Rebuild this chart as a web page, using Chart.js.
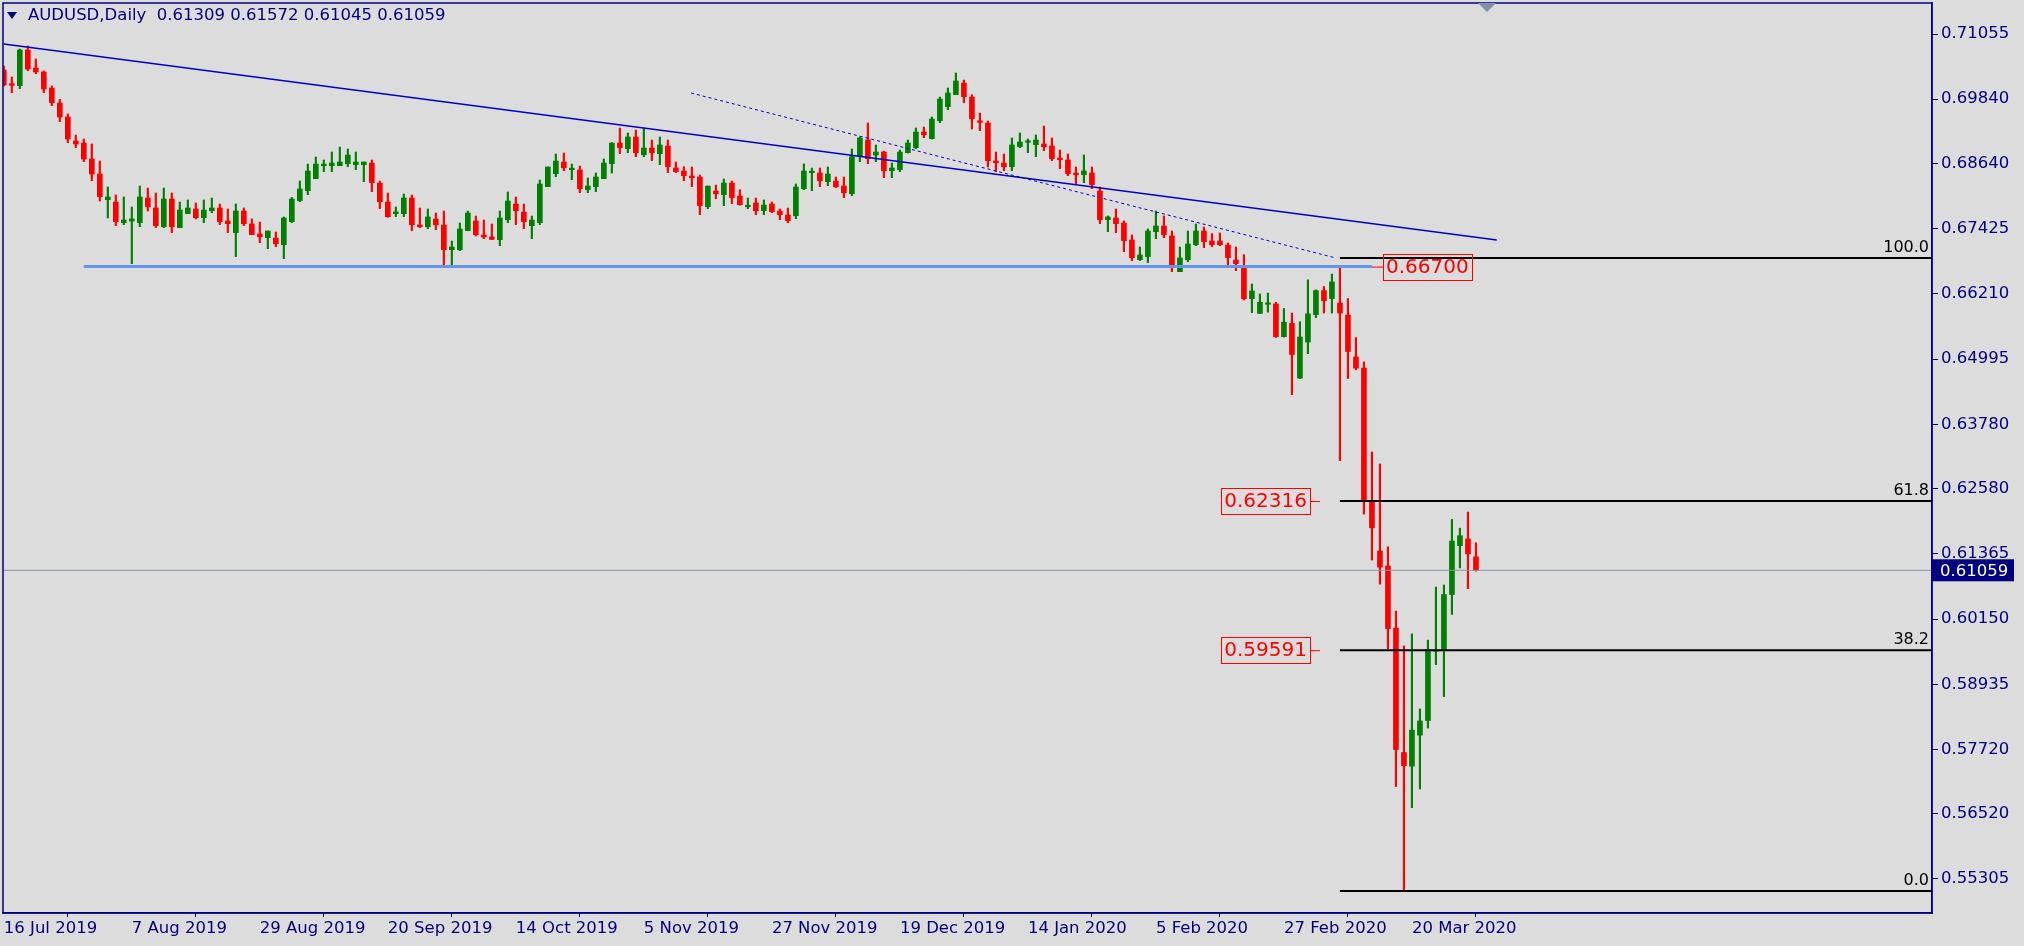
<!DOCTYPE html>
<html>
<head>
<meta charset="utf-8">
<script src="https://cdn.jsdelivr.net/npm/chart.js@4/dist/chart.umd.min.js"></script>
<style>
  html, body { margin: 0; background: #dcdcdc; }
</style>
</head>
<body>
<canvas id="chart" width="2024" height="946"></canvas>
<script>
// AUDUSD daily candles (oldest first)
const open = [
  0.70384,0.70129,0.70092,0.70757,0.70421,0.70347,0.70048,0.69769,0.69508,0.69060,
  0.69023,0.68725,0.68445,0.67967,0.67923,0.67538,0.67569,0.67538,0.67998,0.67812,
  0.67464,0.67979,0.67445,0.67706,0.67793,0.67632,0.67762,0.67812,0.67569,0.67352,
  0.67756,0.67513,0.67327,0.67258,0.67252,0.67128,0.67557,0.67948,0.68134,0.68358,
  0.68600,0.68600,0.68600,0.68638,0.68619,0.68619,0.68650,0.68277,0.67923,0.67706,
  0.67706,0.67998,0.67495,0.67463,0.67606,0.67495,0.67035,0.67035,0.67389,0.67569,
  0.67308,0.67271,0.67221,0.67594,0.67886,0.67737,0.67482,0.67538,0.68209,0.68451,
  0.68669,0.68526,0.68520,0.68153,0.68209,0.68358,0.68638,0.69023,0.68917,0.69135,
  0.68805,0.68930,0.68824,0.68967,0.68557,0.68501,0.68408,0.68389,0.67836,0.68128,
  0.68060,0.68277,0.68035,0.67836,0.67905,0.67762,0.67886,0.67755,0.67681,0.67669,
  0.68172,0.68470,0.68464,0.68302,0.68315,0.68222,0.68079,0.68768,0.69079,0.68799,
  0.68855,0.68507,0.68526,0.68843,0.68936,0.69228,0.69104,0.69439,0.69700,0.69924,
  0.70141,0.69880,0.69414,0.69396,0.68688,0.68650,0.68582,0.68955,0.69036,0.68992,
  0.69005,0.68967,0.68744,0.68707,0.68446,0.68433,0.68464,0.68129,0.67594,0.67626,
  0.67532,0.67215,0.66849,0.66905,0.67371,0.67476,0.67290,0.66625,0.66849,0.67128,
  0.67383,0.67197,0.67197,0.67122,0.66843,0.66731,0.66122,0.65847,0.66017,0.66024,
  0.65414,0.65661,0.64641,0.65313,0.65823,0.66272,0.66125,0.66040,0.65816,0.65035,
  0.64827,0.62338,0.61419,0.61140,0.59981,0.57663,0.57408,0.57987,0.58258,0.59548,
  0.59579,0.60607,0.61519,0.61643,0.61309
];
const high = [
  0.70458,0.70253,0.70775,0.70831,0.70589,0.70365,0.70086,0.69837,0.69564,0.69172,
  0.69098,0.69005,0.68688,0.68203,0.68054,0.68017,0.67830,0.68222,0.68184,0.68091,
  0.68184,0.68091,0.67923,0.67961,0.67905,0.67961,0.67998,0.67886,0.67793,0.67886,
  0.67812,0.67609,0.67550,0.67383,0.67364,0.67644,0.68010,0.68315,0.68631,0.68762,
  0.68706,0.68855,0.68948,0.68911,0.68855,0.68669,0.68706,0.68315,0.68091,0.67830,
  0.68072,0.68054,0.67811,0.67793,0.67718,0.67755,0.67196,0.67532,0.67755,0.67662,
  0.67588,0.67513,0.67755,0.68110,0.68016,0.67886,0.67662,0.68333,0.68576,0.68818,
  0.68837,0.68631,0.68594,0.68371,0.68464,0.68725,0.69030,0.69302,0.69209,0.69265,
  0.69302,0.69079,0.69135,0.69079,0.68669,0.68582,0.68576,0.68426,0.68221,0.68240,
  0.68352,0.68315,0.68153,0.67998,0.67998,0.67961,0.67923,0.67793,0.67811,0.68259,
  0.68632,0.68557,0.68557,0.68576,0.68389,0.68389,0.68911,0.69135,0.69396,0.68986,
  0.68870,0.68650,0.68892,0.69079,0.69303,0.69321,0.69508,0.69880,0.70048,0.70328,
  0.70197,0.69924,0.69582,0.69433,0.68855,0.68818,0.69117,0.69210,0.69098,0.69173,
  0.69340,0.69117,0.68893,0.68818,0.68576,0.68800,0.68576,0.68203,0.67663,0.67793,
  0.67570,0.67309,0.67085,0.67421,0.67756,0.67663,0.67383,0.67085,0.67383,0.67514,
  0.67458,0.67334,0.67346,0.67160,0.67085,0.66942,0.66395,0.66210,0.66225,0.66055,
  0.65939,0.65854,0.65692,0.66473,0.66287,0.66349,0.66581,0.66700,0.66125,0.65398,
  0.64942,0.63265,0.63041,0.61496,0.60298,0.59649,0.59873,0.58474,0.59757,0.60746,
  0.60785,0.62006,0.61844,0.62145,0.61572
];
const low = [
  0.70086,0.69961,0.70036,0.70371,0.70315,0.69961,0.69719,0.69421,0.69029,0.68936,
  0.68675,0.68321,0.67942,0.67625,0.67482,0.67501,0.66774,0.67464,0.67756,0.67445,
  0.67445,0.67352,0.67445,0.67706,0.67607,0.67538,0.67725,0.67501,0.67352,0.66905,
  0.67482,0.67315,0.67165,0.67053,0.67091,0.66867,0.67538,0.67929,0.68060,0.68358,
  0.68489,0.68489,0.68600,0.68582,0.68526,0.68302,0.68116,0.67799,0.67638,0.67650,
  0.67650,0.67389,0.67445,0.67426,0.67408,0.66718,0.66699,0.67016,0.67389,0.67290,
  0.67240,0.67221,0.67109,0.67538,0.67501,0.67426,0.67240,0.67501,0.68209,0.68395,
  0.68507,0.68339,0.68097,0.68097,0.68116,0.68358,0.68464,0.68824,0.68843,0.68768,
  0.68768,0.68694,0.68619,0.68470,0.68470,0.68321,0.68209,0.67687,0.67799,0.67985,
  0.67855,0.67892,0.67866,0.67799,0.67687,0.67687,0.67724,0.67594,0.67538,0.67613,
  0.68153,0.68135,0.68209,0.68228,0.68190,0.68004,0.68041,0.68675,0.68638,0.68675,
  0.68377,0.68377,0.68489,0.68837,0.68917,0.69122,0.69098,0.69402,0.69644,0.69924,
  0.69775,0.69284,0.69253,0.68576,0.68489,0.68507,0.68508,0.68936,0.68843,0.68769,
  0.68880,0.68694,0.68545,0.68415,0.68265,0.68284,0.68172,0.67520,0.67371,0.67352,
  0.66998,0.66830,0.66830,0.66793,0.67240,0.67259,0.66625,0.66625,0.66812,0.67110,
  0.67073,0.67091,0.67110,0.66737,0.66644,0.66097,0.65861,0.65847,0.65870,0.65400,
  0.65406,0.64332,0.64633,0.65097,0.65769,0.65854,0.65854,0.63103,0.64633,0.64796,
  0.62106,0.61249,0.60800,0.59595,0.57029,0.55080,0.56635,0.56983,0.58119,0.59301,
  0.58706,0.60236,0.61102,0.60715,0.61045
];
const close = [
  0.70104,0.70098,0.70757,0.70402,0.70347,0.70030,0.69775,0.69508,0.69098,0.69005,
  0.68725,0.68445,0.68023,0.68017,0.67557,0.67588,0.67607,0.68017,0.67836,0.67482,
  0.67979,0.67464,0.67774,0.67812,0.67632,0.67774,0.67812,0.67557,0.67520,0.67756,
  0.67520,0.67315,0.67277,0.67383,0.67147,0.67625,0.67979,0.68166,0.68501,0.68631,
  0.68613,0.68650,0.68669,0.68799,0.68669,0.68669,0.68284,0.67929,0.67650,0.67737,
  0.67998,0.67501,0.67463,0.67644,0.67501,0.67035,0.67084,0.67420,0.67718,0.67314,
  0.67271,0.67227,0.67625,0.67942,0.67762,0.67557,0.67588,0.68259,0.68576,0.68687,
  0.68563,0.68538,0.68172,0.68221,0.68389,0.68650,0.69023,0.68936,0.69135,0.68843,
  0.68930,0.68843,0.68986,0.68582,0.68489,0.68414,0.68377,0.67855,0.68221,0.68079,
  0.68277,0.68004,0.67873,0.67849,0.67762,0.67867,0.67743,0.67687,0.67575,0.68203,
  0.68501,0.68495,0.68321,0.68445,0.68209,0.68097,0.68768,0.69116,0.68731,0.68855,
  0.68507,0.68557,0.68855,0.69023,0.69228,0.69178,0.69470,0.69843,0.69955,0.70179,
  0.69887,0.69477,0.69408,0.68694,0.68656,0.68582,0.68986,0.69042,0.69048,0.69079,
  0.68955,0.68731,0.68713,0.68452,0.68433,0.68502,0.68247,0.67594,0.67644,0.67520,
  0.67203,0.66886,0.66936,0.67383,0.67476,0.67315,0.66737,0.66880,0.67141,0.67383,
  0.67184,0.67128,0.67128,0.66886,0.66774,0.66122,0.66265,0.66055,0.66032,0.65414,
  0.65684,0.65082,0.65406,0.65839,0.66272,0.66086,0.66434,0.65854,0.65136,0.64827,
  0.62338,0.61851,0.61117,0.59973,0.57717,0.57415,0.58080,0.58250,0.59579,0.59564,
  0.60607,0.61604,0.61704,0.61364,0.61059
];

const tickIdx = [0, 16, 32, 48, 64, 80, 96, 112, 128, 144, 160, 176];
const tickLabels = ["16 Jul 2019", "7 Aug 2019", "29 Aug 2019", "20 Sep 2019", "14 Oct 2019", "5 Nov 2019",
  "27 Nov 2019", "19 Dec 2019", "14 Jan 2020", "5 Feb 2020", "27 Feb 2020", "20 Mar 2020"];
const priceTicks = [0.71055, 0.69840, 0.68640, 0.67425, 0.66210, 0.64995, 0.63780,
  0.62580, 0.61365, 0.60150, 0.58935, 0.57720, 0.56520, 0.55305];

const fibLevels = [0.6688, 0.6235, 0.5957, 0.5508];
const fibLabels = ["100.0", "61.8", "38.2", "0.0"];
const fibTags = ["", "0.62316", "0.59591", ""];
const fibStart = 167;
const trendMain = [[0, 0.70869], [186.6, 0.67215]];
const trendDots = [[85.9, 0.69955], [166.5, 0.66880]];
const support = [[10, 0.6672], [171, 0.6672]];
const supportTag = "0.66700";
const lastPrice = 0.61059;
const headerText = "AUDUSD,Daily  0.61309 0.61572 0.61045 0.61059";

const GREEN = "#008000", RED = "#ff0000", NAVY = "#000080";
const X_MIN = -0.1, X_MAX = 241;
const FONT = "DejaVu Sans";

const idx = open.map((_, i) => i);
const up = (i) => close[i] >= open[i];
const toPts = (arr) => arr.map((p) => ({ x: p[0], y: p[1] }));

const extras = {
  id: "extras",
  beforeDraw(chart) {
    const ctx = chart.ctx;
    ctx.save();
    ctx.fillStyle = "#dcdcdc";
    ctx.fillRect(0, 0, chart.width, chart.height);
    ctx.restore();
  },
  afterDraw(chart) {
    const ctx = chart.ctx;
    const a = chart.chartArea;
    const xs = chart.scales.x, ys = chart.scales.y;
    ctx.save();
    // frame
    ctx.strokeStyle = NAVY;
    ctx.lineWidth = 1.5;
    ctx.strokeRect(a.left, a.top, a.right - a.left, a.bottom - a.top);

    // header
    ctx.fillStyle = NAVY;
    ctx.beginPath();
    ctx.moveTo(7, 12); ctx.lineTo(17, 12); ctx.lineTo(12, 19); ctx.closePath();
    ctx.fill();
    ctx.font = "16.5px " + FONT;
    ctx.textBaseline = "middle";
    ctx.fillText(headerText, 28, 16);

    // shift marker
    ctx.fillStyle = "#8090a8";
    ctx.beginPath();
    ctx.moveTo(1478, 3); ctx.lineTo(1496, 3); ctx.lineTo(1487, 12); ctx.closePath();
    ctx.fill();

    // fib level texts
    ctx.fillStyle = "#000";
    ctx.font = "16px " + FONT;
    ctx.textAlign = "right";
    ctx.textBaseline = "bottom";
    fibLevels.forEach((v, i) => {
      ctx.fillText(fibLabels[i], a.right - 3, ys.getPixelForValue(v) - 2);
    });

    // red price tags
    ctx.font = "20px " + FONT;
    ctx.textBaseline = "middle";
    ctx.textAlign = "left";
    const tag = (text, x, y, lineFrom, lineTo) => {
      const w = ctx.measureText(text).width + 6;
      ctx.strokeStyle = RED;
      ctx.lineWidth = 1;
      ctx.strokeRect(Math.round(x) + 0.5, Math.round(y - 13) + 0.5, Math.round(w), 26);
      ctx.fillStyle = RED;
      ctx.fillText(text, x + 3, y + 1);
      ctx.beginPath();
      ctx.moveTo(lineFrom, y + 0.5); ctx.lineTo(lineTo, y + 0.5);
      ctx.stroke();
    };
    const yS = ys.getPixelForValue(support[0][1]);
    const xS = xs.getPixelForValue(support[1][0]);
    tag(supportTag, xS + 11, yS, xS, xS + 11);
    fibTags.forEach((t, k) => {
      if (!t) return;
      const y = ys.getPixelForValue(fibLevels[k]);
      const xr = xs.getPixelForValue(fibStart - 2.5);
      const w = ctx.measureText(t).width + 6;
      tag(t, xr - w - 10, y, xr - 10, xr);
    });

    // last price box
    const yl = ys.getPixelForValue(lastPrice);
    ctx.fillStyle = NAVY;
    ctx.fillRect(a.right, yl - 11, 82, 22);
    ctx.fillStyle = "#fff";
    ctx.font = "16.5px " + FONT;
    ctx.fillText(lastPrice.toFixed(5), a.right + 8, yl + 1);
    ctx.restore();
  },
};

new Chart(document.getElementById("chart"), {
  type: "bar",
  data: {
    datasets: [
      {
        type: "line",
        data: [{ x: X_MIN, y: lastPrice }, { x: X_MAX, y: lastPrice }],
        borderColor: "#8896aa",
        borderWidth: 1,
        pointRadius: 0,
      },
      ...fibLevels.map((v) => ({
        type: "line",
        data: [{ x: fibStart, y: v }, { x: X_MAX, y: v }],
        borderColor: "#000",
        borderWidth: 2,
        pointRadius: 0,
      })),
      {
        type: "line",
        data: toPts(support),
        borderColor: "#6495ed",
        borderWidth: 3,
        pointRadius: 0,
      },
      {
        type: "line",
        data: toPts(trendMain),
        borderColor: "#0000cc",
        borderWidth: 1.5,
        pointRadius: 0,
      },
      {
        type: "line",
        data: toPts(trendDots),
        borderColor: "#0000cc",
        borderWidth: 1,
        borderDash: [3, 3],
        pointRadius: 0,
      },
      {
        label: "wick",
        data: idx.map((i) => ({ x: i, y: [low[i], high[i]] })),
        backgroundColor: idx.map((i) => (up(i) ? GREEN : RED)),
        barThickness: 1.5,
        grouped: false,
      },
      {
        label: "body",
        data: idx.map((i) => ({ x: i, y: [open[i], close[i]] })),
        backgroundColor: idx.map((i) => (up(i) ? GREEN : RED)),
        barThickness: 5,
        minBarLength: 1.5,
        grouped: false,
      },
    ],
  },
  options: {
    responsive: false,
    animation: false,
    devicePixelRatio: 1,
    layout: { padding: { left: 3, top: 3, right: 0, bottom: 0 } },
    plugins: { legend: { display: false }, tooltip: { enabled: false } },
    scales: {
      x: {
        type: "linear",
        min: X_MIN,
        max: X_MAX,
        offset: false,
        afterBuildTicks: (s) => { s.ticks = tickIdx.map((v) => ({ value: v })); },
        afterFit: (s) => { s.height = 33; s.paddingLeft = 0; s.paddingRight = 0; },
        ticks: {
          autoSkip: false,
          maxRotation: 0,
          align: "start",
          padding: 2,
          color: NAVY,
          font: { family: FONT, size: 16.5 },
          callback: (v) => tickLabels[tickIdx.indexOf(v)],
        },
        grid: { drawOnChartArea: false, color: NAVY, tickLength: 4 },
        border: { color: NAVY, width: 1.5 },
      },
      y: {
        position: "right",
        min: 0.54671,
        max: 0.71633,
        afterBuildTicks: (s) => { s.ticks = priceTicks.map((v) => ({ value: v })); },
        afterFit: (s) => { s.width = 92; s.paddingTop = 0; s.paddingBottom = 0; },
        ticks: {
          padding: 3,
          color: NAVY,
          font: { family: FONT, size: 16.5 },
          callback: (v) => v.toFixed(5),
        },
        grid: { drawOnChartArea: false, color: NAVY, tickLength: 6 },
        border: { color: NAVY, width: 1.5 },
      },
    },
  },
  plugins: [extras],
});
</script>
</body>
</html>
